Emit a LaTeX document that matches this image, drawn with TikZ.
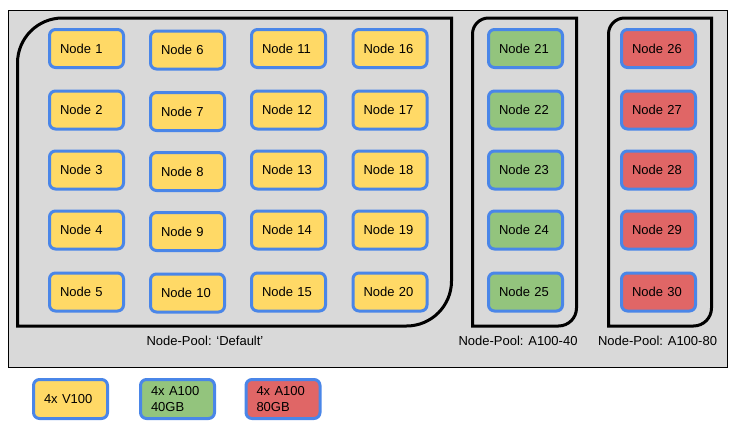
\documentclass[tikz,border=0pt]{standalone}
\usepackage{fontspec}
\setmainfont{Liberation Sans}
\definecolor{cyellow}{HTML}{FFD966}
\definecolor{cgreen}{HTML}{93C47D}
\definecolor{cred}{HTML}{E06666}
\definecolor{cblue}{HTML}{4A86E8}
\definecolor{cgray}{HTML}{D9D9D9}
\tikzset{
  vm/.style={draw=cblue, line width=3pt, rounded corners=6pt, minimum height=38pt,
    text width=53pt, inner xsep=10.5pt, inner ysep=0pt, align=left,
    font=\fontsize{13pt}{15pt}\selectfont},
  v100/.style={vm, fill=cyellow},
  a40/.style={vm, fill=cgreen},
  a80/.style={vm, fill=cred},
  pool/.style={line width=3pt},
  poollabel/.style={font=\fontsize{13pt}{15pt}\selectfont}
}
\begin{document}
\begin{tikzpicture}[x=1pt, y=-1pt]
\useasboundingbox (0,0) rectangle (736,434);
\fill[white] (0,0) rectangle (736,434);
\draw[fill=cgray, line width=1pt] (8.5,10.5) rectangle (727,367);
% node pools
\draw[pool] (17.5,326) -- (17.5,63) arc[start angle=180, end angle=270, radius=45]
  -- (451.5,18) -- (451.5,281) arc[start angle=0, end angle=90, radius=45] -- cycle;
\draw[pool] (472.5,326) -- (472.5,34) arc[start angle=180, end angle=270, radius=16]
  -- (576.5,18) -- (576.5,308) arc[start angle=0, end angle=90, radius=18] -- cycle;
\draw[pool] (608.5,326) -- (608.5,34) arc[start angle=180, end angle=270, radius=16]
  -- (711.5,18) -- (711.5,308) arc[start angle=0, end angle=90, radius=18] -- cycle;
% default pool
\node[v100] (n1) at (86.5,48.5) {Node 1};
\node[v100] (n2) at (86.5,110) {Node 2};
\node[v100] (n3) at (86.5,170) {Node 3};
\node[v100] (n4) at (86.5,230) {Node 4};
\node[v100] (n5) at (86.5,292) {Node 5};
\node[v100] (n6) at (187.5,50) {Node 6};
\node[v100] (n7) at (187.5,111.5) {Node 7};
\node[v100] (n8) at (187.5,171.5) {Node 8};
\node[v100] (n9) at (187.5,231.5) {Node 9};
\node[v100] (n10) at (187.5,293) {Node 10};
\node[v100] (n11) at (288.5,48.5) {Node 11};
\node[v100] (n12) at (288.5,110) {Node 12};
\node[v100] (n13) at (288.5,170) {Node 13};
\node[v100] (n14) at (288.5,230) {Node 14};
\node[v100] (n15) at (288.5,292) {Node 15};
\node[v100] (n16) at (390,48.5) {Node 16};
\node[v100] (n17) at (390,110) {Node 17};
\node[v100] (n18) at (390,170) {Node 18};
\node[v100] (n19) at (390,230) {Node 19};
\node[v100] (n20) at (390,292) {Node 20};
% A100-40 pool
\node[a40] (n21) at (525.5,48.5) {Node 21};
\node[a40] (n22) at (525.5,110) {Node 22};
\node[a40] (n23) at (525.5,170) {Node 23};
\node[a40] (n24) at (525.5,230) {Node 24};
\node[a40] (n25) at (525.5,292) {Node 25};
% A100-80 pool
\node[a80] (n26) at (658.5,48.5) {Node 26};
\node[a80] (n27) at (658.5,110) {Node 27};
\node[a80] (n28) at (658.5,170) {Node 28};
\node[a80] (n29) at (658.5,230) {Node 29};
\node[a80] (n30) at (658.5,292) {Node 30};
% pool labels
\node[poollabel] (ldefault) at (205,341) {Node-Pool: ‘Default’};
\node[poollabel] (la40) at (518,341) {Node-Pool: A100-40};
\node[poollabel] (la80) at (657.5,341) {Node-Pool: A100-80};
% legend
\node[v100, text width=53pt, minimum height=39pt] (kv100) at (70.5,399) {4x V100};
\node[a40, text width=53pt, minimum height=39pt, font=\fontsize{13pt}{16pt}\selectfont] (ka40) at (177.5,399) {4x A100\\40GB};
\node[a80, text width=53pt, minimum height=39pt, font=\fontsize{13pt}{16pt}\selectfont] (ka80) at (283,399) {4x A100\\80GB};
\end{tikzpicture}
\end{document}
